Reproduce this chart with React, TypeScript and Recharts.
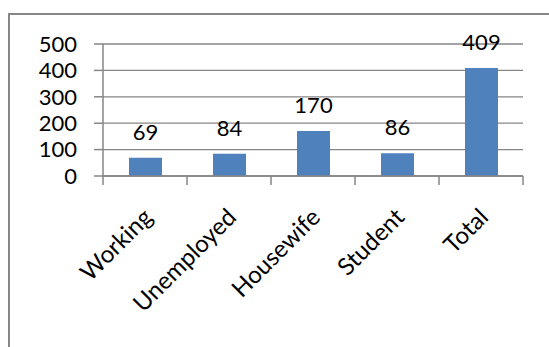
import React from "react";
import { BarChart, Bar, XAxis, YAxis, CartesianGrid, LabelList } from "recharts";

// Counts per occupation group, with the overall total as the last bar
const categories = ["Working", "Unemployed", "Housewife", "Student", "Total"];
const counts = [69, 84, 170, 86, 409];
const yTicks = [0, 100, 200, 300, 400, 500];

const data = categories.map((name, i) => ({ name, count: counts[i] }));

const FONT = "Lato, 'Open Sans', sans-serif";
const FONT_SIZE = 22;
const CATEGORY_FONT_SIZE = 24;
const AXIS_GRAY = "#868686";
const BAR_BLUE = "#4F81BD";

// Category tick: boundary tick marks between categories plus a -45° label
const CategoryTick = (props: any) => {
  const { x, y, payload, index, visibleTicksCount, width } = props;
  const count = visibleTicksCount || categories.length;
  const band = (width || 420) / count;
  const left = x - band / 2;
  const right = x + band / 2;
  return (
    <g>
      <line x1={left} x2={left} y1={y} y2={y + 9} stroke={AXIS_GRAY} strokeWidth={1.5} />
      {index === count - 1 && (
        <line x1={right} x2={right} y1={y} y2={y + 9} stroke={AXIS_GRAY} strokeWidth={1.5} />
      )}
      <text
        transform={`translate(${x - 4},${y + 30}) rotate(-45)`}
        textAnchor="end"
        dy="0.75em"
        fontFamily={FONT}
        fontSize={CATEGORY_FONT_SIZE}
        fill="#000"
      >
        {payload.value}
      </text>
    </g>
  );
};

export default function App() {
  return (
    <div style={{ position: "absolute", left: 0, top: 0, width: 549, height: 347, background: "#fff" }}>
      <div
        style={{
          position: "absolute",
          left: 8,
          top: 13,
          width: 560,
          height: 360,
          borderLeft: `2px solid ${AXIS_GRAY}`,
          borderTop: `2px solid ${AXIS_GRAY}`,
          boxSizing: "border-box",
        }}
      />
      <div style={{ position: "absolute", left: 0, top: 0 }}>
        <BarChart
          width={549}
          height={347}
          data={data}
          margin={{ top: 44, right: 26, bottom: 0, left: 0 }}
          barSize={33}
        >
          <CartesianGrid vertical={false} stroke={AXIS_GRAY} strokeWidth={1.3} />
          <XAxis
            dataKey="name"
            height={171}
            interval={0}
            tickSize={0}
            tickMargin={0}
            tickLine={false}
            axisLine={{ stroke: AXIS_GRAY, strokeWidth: 1.5 }}
            tick={<CategoryTick />}
          />
          <YAxis
            width={103}
            domain={[0, 500]}
            ticks={yTicks}
            interval={0}
            tickSize={9}
            tickMargin={17}
            axisLine={{ stroke: AXIS_GRAY, strokeWidth: 1.5 }}
            tickLine={{ stroke: AXIS_GRAY, strokeWidth: 1.5 }}
            tick={{ fontFamily: FONT, fontSize: FONT_SIZE, fill: "#000" }}
          />
          <Bar dataKey="count" fill={BAR_BLUE} isAnimationActive={false}>
            <LabelList
              dataKey="count"
              position="top"
              offset={18}
              fontFamily={FONT}
              fontSize={FONT_SIZE}
              fill="#000"
            />
          </Bar>
        </BarChart>
      </div>
    </div>
  );
}
